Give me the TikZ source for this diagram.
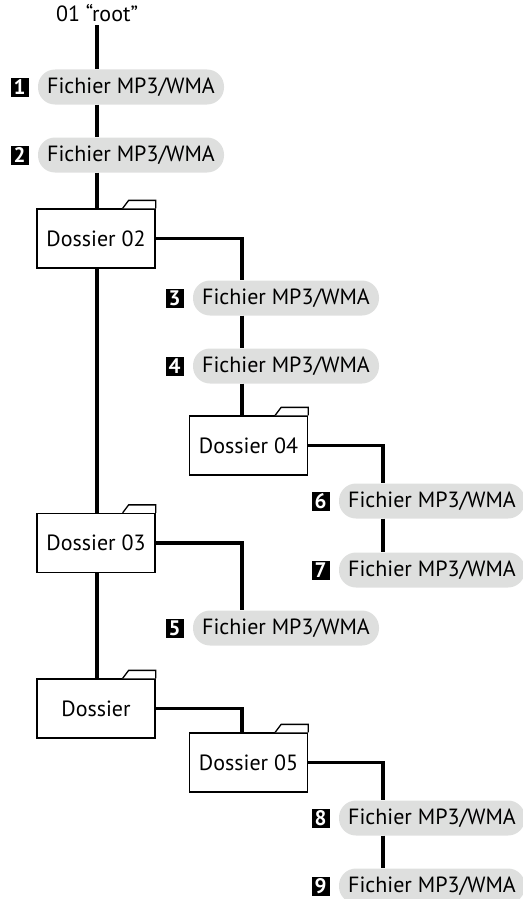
\documentclass[tikz,border=0pt]{standalone}
\usepackage{fontspec}
\setmainfont{PT Sans}
\usepackage{tikz}
\usetikzlibrary{calc,positioning}
\definecolor{pillgray}{RGB}{222,223,222}

\begin{document}
\begin{tikzpicture}[
  x=1pt, y=-1pt,
  font=\fontsize{22}{26}\selectfont,
  trunk/.style={line width=3.2pt},
  file/.style={fill=pillgray, rounded corners=17pt, minimum width=186pt,
    minimum height=35pt, inner sep=0pt},
  folder/.style={draw, line width=1.3pt, fill=white, minimum width=118pt,
    minimum height=59pt, inner sep=0pt},
  badge/.style={fill=black, text=white, font=\fontsize{21}{22}\selectfont\bfseries,
    minimum width=18pt, minimum height=19pt, inner sep=0pt, left=9pt of #1}
]

\useasboundingbox (0,0) rectangle (522,899);

\def\xA{97}
\def\xB{242}
\def\xC{383}

% column lines
\coordinate (colA) at (\xA,0);
\coordinate (colB) at (\xB,0);
\coordinate (colC) at (\xC,0);

% ------------------------
% Nodes
% ------------------------
\node (root) at (\xA,13) {01 “root”};

\node[file] (f1) at (131,87)  {Fichier MP3/WMA};
\node[file] (f2) at (131,155) {Fichier MP3/WMA};
\node[folder] (d02) at (96,238.5) {Dossier 02};
\node[folder] (d03) at (96,543)   {Dossier 03};
\node[folder] (dd)  at (96,708.5) {Dossier};

\node[file] (f3) at (286,298) {Fichier MP3/WMA};
\node[file] (f4) at (286,366) {Fichier MP3/WMA};
\node[folder] (d04) at (248.5,445.5) {Dossier 04};
\node[file] (f5) at (286,628) {Fichier MP3/WMA};
\node[folder] (d05) at (248.5,762.5) {Dossier 05};

\node[file] (f6) at (432,501) {Fichier MP3/WMA};
\node[file] (f7) at (432,570) {Fichier MP3/WMA};
\node[file] (f8) at (432,818) {Fichier MP3/WMA};
\node[file] (f9) at (432,886) {Fichier MP3/WMA};

% folder tabs
\foreach \f in {d02,d03,dd,d04,d05}
  \draw[line width=1.3pt, line join=miter, fill=white]
    ($(\f.north east)+(-33,0)$) -- ++(6,-8) -- ($(\f.north east)+(0,-8)$)
    -- (\f.north east);

% badges
\node[badge=f1] (b1) {1};
\node[badge=f2] (b2) {2};
\node[badge=f3] (b3) {3};
\node[badge=f4] (b4) {4};
\node[badge=f5] (b5) {5};
\node[badge=f6] (b6) {6};
\node[badge=f7] (b7) {7};
\node[badge=f8] (b8) {8};
\node[badge=f9] (b9) {9};

% ------------------------
% Connectors
% ------------------------
\draw[trunk] (root.south) -- (colA |- f1.north);
\draw[trunk] (colA |- f1.south) -- (colA |- f2.north);
\draw[trunk] (colA |- f2.south) -- (colA |- d02.north);
\draw[trunk] (colA |- d02.south) -- (colA |- d03.north);
\draw[trunk] (colA |- d03.south) -- (colA |- dd.north);

\draw[trunk] (d02.east) -| (colB |- f3.north);
\draw[trunk] (colB |- f3.south) -- (colB |- f4.north);
\draw[trunk] (colB |- f4.south) -- (colB |- d04.north);
\draw[trunk] (d03.east) -| (colB |- f5.north);
\draw[trunk] (dd.east) -| (colB |- d05.north);

\draw[trunk] (d04.east) -| (colC |- f6.north);
\draw[trunk] (colC |- f6.south) -- (colC |- f7.north);
\draw[trunk] (d05.east) -| (colC |- f8.north);
\draw[trunk] (colC |- f8.south) -- (colC |- f9.north);

\end{tikzpicture}
\end{document}
